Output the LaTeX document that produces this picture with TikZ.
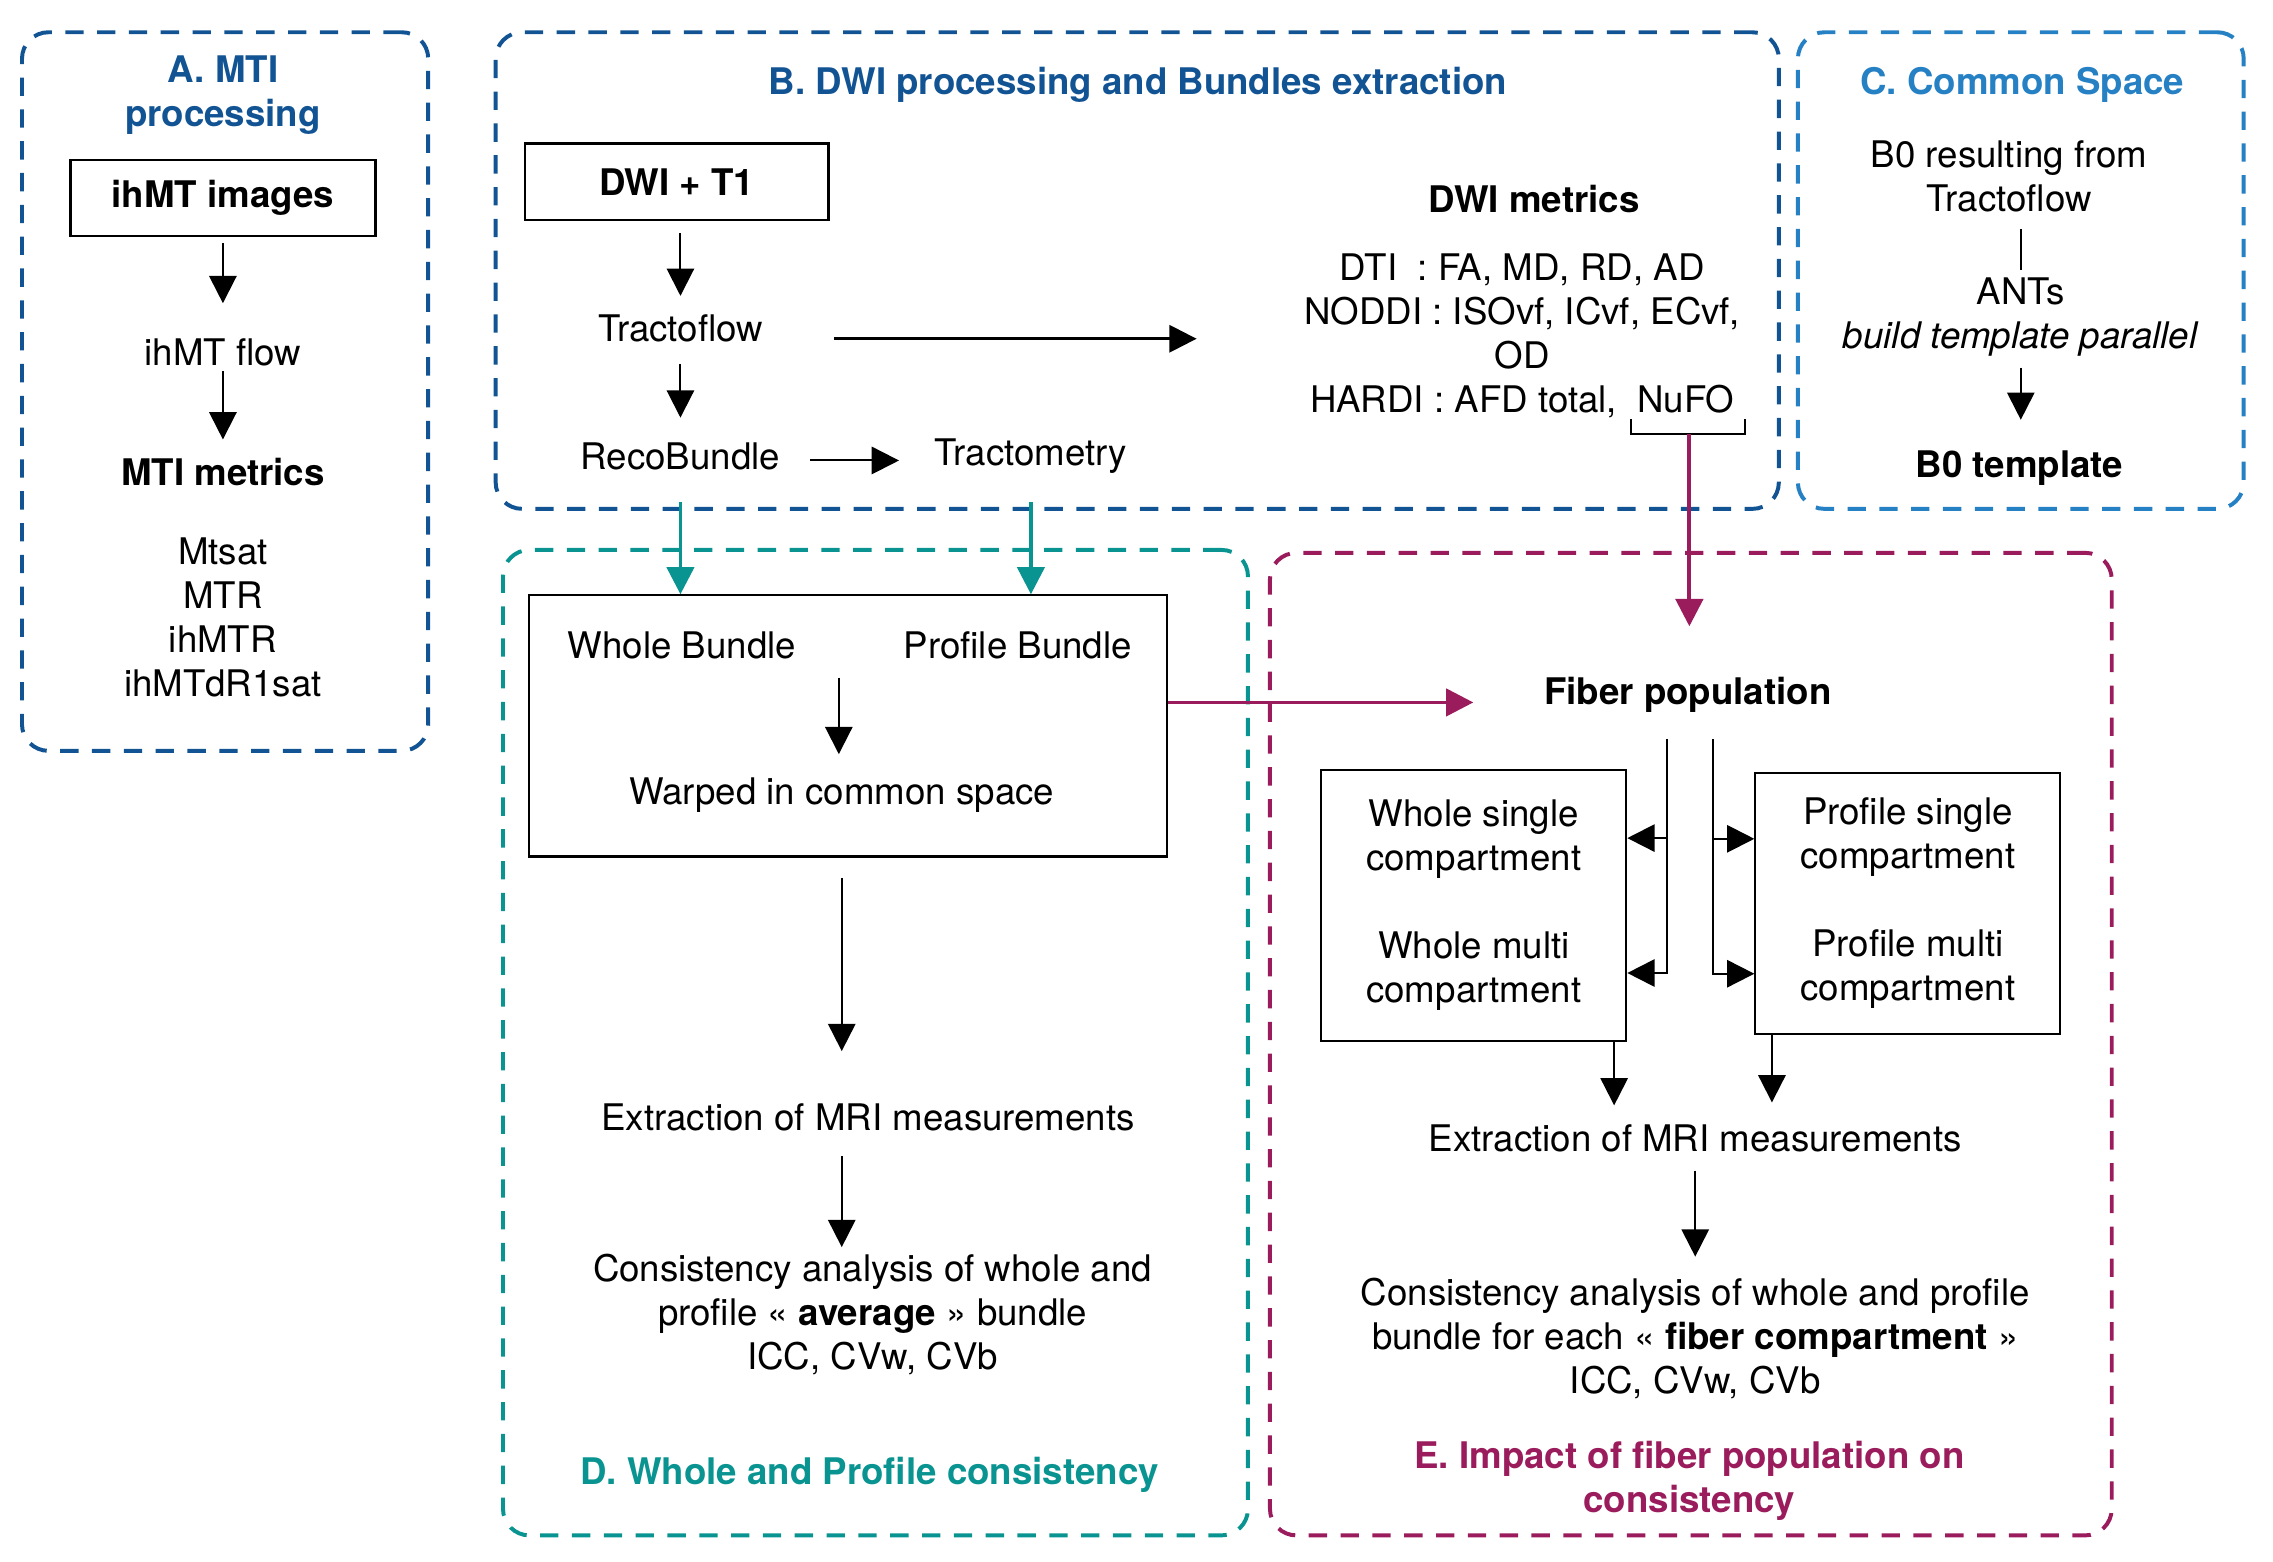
\documentclass[tikz,border=0pt]{standalone}
\usepackage{fontspec}
\setmainfont{TeX Gyre Heros}
\usetikzlibrary{arrows.meta,calc}
\definecolor{cA}{RGB}{18,84,147}
\definecolor{cC}{RGB}{38,128,196}
\definecolor{cD}{RGB}{10,148,145}
\definecolor{cE}{RGB}{155,28,92}
\begin{document}
\begin{tikzpicture}[x=0.5pt,y=-0.5pt,
  every node/.style={font=\fontsize{12.5}{15}\selectfont, inner sep=0pt, align=center},
  bold/.style={font=\fontsize{12.5}{15}\selectfont\bfseries},
  ttl/.style={text=#1, font=\fontsize{12.5}{15}\selectfont\bfseries},
  frame/.style={draw=#1, line width=1.35pt, dash pattern=on 6.25pt off 4.6pt, rounded corners=9pt},
  box/.style={draw, line width=0.9pt},
  arr/.style={-{Triangle[length=9.3pt,width=9.3pt]}, line width=0.7pt},
  tarr/.style={draw=cD, line width=1.3pt, -{Triangle[length=9.3pt,width=9.3pt]}},
  marr/.style={draw=cE, line width=1.3pt, -{Triangle[length=9.3pt,width=9.3pt]}}]
\useasboundingbox (0,0) rectangle (1550,1065);
% frames
\node[frame=cA, minimum width=138.5pt, minimum height=245pt] (fA) at (153.5,267) {};
\node[frame=cA, minimum width=437.5pt, minimum height=162.5pt] (fB) at (775.5,184.5) {};
\node[frame=cC, minimum width=152pt, minimum height=162.5pt] (fC) at (1378,184.5) {};
\node[frame=cD, minimum width=254pt, minimum height=336pt] (fD) at (597,711) {};
\node[frame=cE, minimum width=287pt, minimum height=335pt] (fE) at (1153,712) {};
% titles
\node[ttl=cA] (tA) at (152,65) {A. MTI\\processing};
\node[ttl=cA] (tB) at (776,58) {B. DWI processing and Bundles extraction};
\node[ttl=cC] (tC) at (1379,58) {C. Common Space};
\node[ttl=cD] (tD) at (593,1006) {D. Whole and Profile consistency};
\node[ttl=cE] (tE) at (1152,1010) {E. Impact of fiber population on\\consistency};
% A
\node[box, minimum width=104pt, minimum height=26pt] (imgA) at (152,135) {\textbf{ihMT images}};
\node (flowA) at (152,240) {ihMT flow};
\node[bold] (mtiA) at (152,322) {MTI metrics};
\node (listA) at (152,421) {Mtsat\\MTR\\ihMTR\\ihMTdR1sat};
% B
\node[box, minimum width=103.5pt, minimum height=26pt] (dwi) at (461.5,124) {\textbf{DWI + T1}};
\node (tracto) at (464,224) {Tractoflow};
\node (reco) at (464,311) {RecoBundle};
\node (tmetry) at (703,311) {Tractometry};
\node[bold] (dwimet) at (1046,136) {DWI metrics};
\node (dwilist) at (1038,229) {DTI\ \ : FA, MD, RD, AD\\NODDI : ISOvf, ICvf, ECvf,\\OD\\HARDI : AFD total,\ \ NuFO};
\coordinate (nufo) at (1152,296);
% C
\node (b0res) at (1370,120) {B0 resulting from\\Tractoflow};
\node (ants) at (1378,216) {ANTs\\\textit{build template parallel}};
\node[bold] (b0t) at (1377,319) {B0 template};
% D
\node[box, line width=0.75pt, minimum width=217.5pt, minimum height=89pt] (drect) at (578.5,495) {};
\node (wb) at (465,440) {Whole Bundle};
\node (pb) at (694,440) {Profile Bundle};
\node (warped) at (574,542) {Warped in common space};
\coordinate (wtop) at (572,462);
\node (extrD) at (592,762) {Extraction of MRI measurements};
\node (consD) at (595,896.5) {Consistency analysis of whole and\\profile « \textbf{average} » bundle\\ICC, CVw, CVb};
% E
\node[bold] (fib) at (1151,474) {Fiber population};
\node[box, line width=0.7pt, minimum width=104pt, minimum height=92.5pt] (wbox) at (1005,617.5) {Whole single\\compartment\\[15pt]Whole multi\\compartment};
\node[box, line width=0.7pt, minimum width=104pt, minimum height=89pt] (pbox) at (1301,616) {Profile single\\compartment\\[15pt]Profile multi\\compartment};
\node (extrE) at (1156,776) {Extraction of MRI measurements};
\node (consE) at (1156,913) {Consistency analysis of whole and profile\\bundle for each « \textbf{fiber compartment} »\\ICC, CVw, CVb};
% connectors A
\draw[arr, shorten <=2pt, shorten >=11.75pt] (imgA) -- (flowA);
\draw[arr, shorten <=1.75pt, shorten >=6.25pt] (flowA) -- (mtiA);
% connectors B
\draw[arr, shorten <=4pt, shorten >=6.25pt] (dwi.south -| tracto) -- (tracto.north);
\draw[arr, shorten <=7.25pt, shorten >=8.25pt] (tracto) -- (reco);
\draw[arr, shorten <=10pt, shorten >=12pt] ([yshift=-1.5pt]reco.east) -- ([yshift=-1.5pt]reco.east -| tmetry.west);
\draw[arr, line width=0.9pt, shorten <=24pt, shorten >=36.5pt] ([yshift=-3.5pt]tracto.east) -- ([yshift=-3.5pt]tracto.east -| dwilist.west);
\draw[line width=0.7pt] (1112,286) -- (1112,296) -- (1190,296) -- (1190,286);
\draw[marr, shorten >=17.25pt] (nufo) -- (nufo |- fib.north);
% connectors C
\draw[line width=0.6pt, shorten <=5.75pt, shorten >=2.25pt] (ants |- b0res.south) -- (ants.north);
\draw[arr, shorten <=3.75pt, shorten >=10.25pt] (ants.south) -- (ants.south |- b0t.north);
% connectors D
\draw[tarr, shorten <=-3pt] (reco |- fB.south) -- (reco |- drect.north);
\draw[tarr, shorten <=-3pt] (tmetry |- fB.south) -- (tmetry |- drect.north);
\draw[arr, shorten >=7.75pt] (wtop) -- (wtop |- warped.north);
\draw[arr, shorten <=7pt, shorten >=17.75pt] (warped |- drect.south) -- (warped |- extrD.north);
\draw[arr, shorten <=8.25pt, shorten >=2.25pt] (extrD.south -| warped) -- (warped |- consD.north);
\draw[marr, shorten >=24pt] ([yshift=8pt]drect.east) -- ([yshift=8pt]drect.east -| fib.west);
% connectors E
\draw[arr] ([xshift=-7pt,yshift=-8.75pt]fib.south) |- ([yshift=23pt]wbox.east);
\draw[arr] ([xshift=-7pt,yshift=-8.75pt]fib.south) |- ([yshift=-23pt]wbox.east);
\draw[arr] ([xshift=8.5pt,yshift=-8.75pt]fib.south) |- ([yshift=22pt]pbox.west);
\draw[arr] ([xshift=8.5pt,yshift=-8.75pt]fib.south) |- ([yshift=-24pt]pbox.west);
\draw[arr, shorten >=6.25pt] ([xshift=-4.5pt]wbox.south east) -- ([xshift=-4.5pt]wbox.south east |- extrE.north);
\draw[arr, shorten >=7.25pt] ([xshift=6pt]pbox.south west) -- ([xshift=6pt]pbox.south west |- extrE.north);
\draw[arr, shorten <=6.25pt, shorten >=7.25pt] (extrE) -- (consE);
\end{tikzpicture}
\end{document}
